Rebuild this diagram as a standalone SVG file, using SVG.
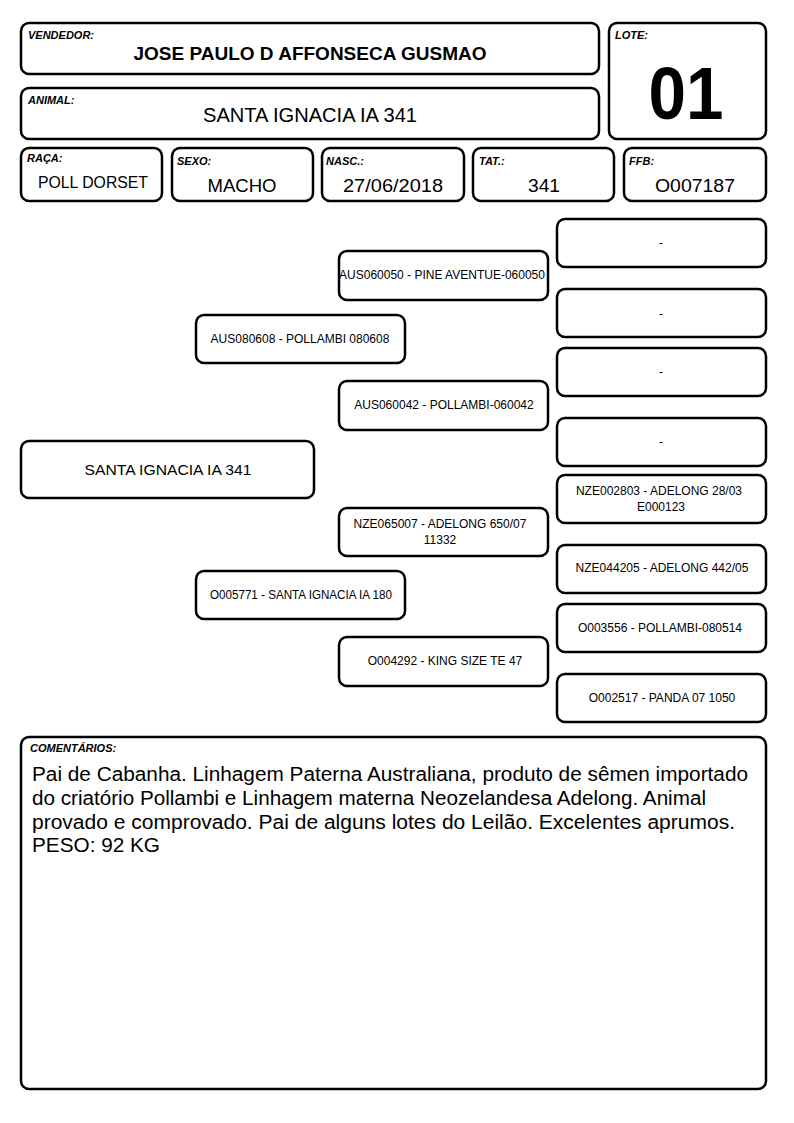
<svg xmlns="http://www.w3.org/2000/svg" width="794" height="1123" viewBox="0 0 794 1123">
<style>
.b{fill:#fff;stroke:#000;stroke-width:2.5}
.l{font-family:"Liberation Sans",Arial,sans-serif;font-size:11px;font-weight:bold;font-style:italic;fill:#000}
.t{font-family:"Liberation Sans",Arial,sans-serif;fill:#000;text-anchor:middle}
.p{font-family:"Liberation Sans",Arial,sans-serif;font-size:12px;fill:#000;text-anchor:middle}
.c{font-family:"Liberation Sans",Arial,sans-serif;font-size:19.5px;fill:#000}
</style>
<rect width="794" height="1123" fill="#fff"/>
<g id="vendedor"><rect class="b" x="21" y="23" width="578" height="51" rx="8"/><text class="l" x="28" y="39">VENDEDOR:</text><text class="t" x="310" y="60" font-size="18.5" font-weight="bold" textLength="353" lengthAdjust="spacingAndGlyphs">JOSE PAULO D AFFONSECA GUSMAO</text></g>
<g id="lote"><rect class="b" x="609" y="23" width="157" height="116" rx="8"/><text class="l" x="615" y="39">LOTE:</text><text class="t" x="686" y="119" font-size="74" font-weight="bold" textLength="75" lengthAdjust="spacingAndGlyphs">01</text></g>
<g id="animal"><rect class="b" x="21" y="88" width="578" height="51" rx="8"/><text class="l" x="28" y="104">ANIMAL:</text><text class="t" x="310" y="122" font-size="19.5" textLength="214" lengthAdjust="spacingAndGlyphs">SANTA IGNACIA IA 341</text></g>
<g id="raca"><rect class="b" x="21" y="148" width="141" height="53" rx="8"/><text class="l" x="27" y="162">RAÇA:</text><text class="t" x="93" y="188" font-size="16" textLength="110" lengthAdjust="spacingAndGlyphs">POLL DORSET</text></g>
<g id="sexo"><rect class="b" x="172" y="148" width="141" height="53" rx="8"/><text class="l" x="177" y="165">SEXO:</text><text class="t" x="242" y="192" font-size="18" textLength="69" lengthAdjust="spacingAndGlyphs">MACHO</text></g>
<g id="nasc"><rect class="b" x="322" y="148" width="142" height="53" rx="8"/><text class="l" x="326" y="165">NASC.:</text><text class="t" x="393" y="192" font-size="18" textLength="100" lengthAdjust="spacingAndGlyphs">27/06/2018</text></g>
<g id="tat"><rect class="b" x="473" y="148" width="141" height="53" rx="8"/><text class="l" x="479" y="165">TAT.:</text><text class="t" x="544" y="192" font-size="18" textLength="32" lengthAdjust="spacingAndGlyphs">341</text></g>
<g id="ffb"><rect class="b" x="624" y="148" width="142" height="53" rx="8"/><text class="l" x="629" y="165">FFB:</text><text class="t" x="695" y="192" font-size="18" textLength="80" lengthAdjust="spacingAndGlyphs">O007187</text></g>
<g id="main"><rect class="b" x="21" y="441" width="293" height="57" rx="8"/><text class="t" x="168" y="475" font-size="15.5" textLength="167" lengthAdjust="spacingAndGlyphs">SANTA IGNACIA IA 341</text></g>
<g id="sire"><rect class="b" x="196" y="315" width="209" height="48" rx="8"/><text class="p" x="300" y="343">AUS080608 - POLLAMBI 080608</text></g>
<g id="dam"><rect class="b" x="196" y="571" width="209" height="48" rx="8"/><text class="p" x="301" y="599" textLength="182" lengthAdjust="spacingAndGlyphs">O005771 - SANTA IGNACIA IA 180</text></g>
<g id="ss"><rect class="b" x="339" y="251" width="209" height="49" rx="8"/><text class="p" x="442" y="279">AUS060050 - PINE AVENTUE-060050</text></g>
<g id="sd"><rect class="b" x="339" y="381" width="209" height="49" rx="8"/><text class="p" x="444" y="409">AUS060042 - POLLAMBI-060042</text></g>
<g id="ds"><rect class="b" x="339" y="508" width="209" height="48" rx="8"/><text class="p" x="440" y="528">NZE065007 - ADELONG 650/07</text><text class="p" x="440" y="544">11332</text></g>
<g id="dd"><rect class="b" x="339" y="637" width="209" height="49" rx="8"/><text class="p" x="445" y="665" font-size="12.8">O004292 - KING SIZE TE 47</text></g>
<g id="sss"><rect class="b" x="557" y="219" width="209" height="48" rx="8"/><text class="p" x="661" y="247">-</text></g>
<g id="ssd"><rect class="b" x="557" y="289" width="209" height="48" rx="8"/><text class="p" x="661" y="318">-</text></g>
<g id="sds"><rect class="b" x="557" y="348" width="209" height="48" rx="8"/><text class="p" x="661" y="376">-</text></g>
<g id="sdd"><rect class="b" x="557" y="418" width="209" height="48" rx="8"/><text class="p" x="661" y="446">-</text></g>
<g id="dss"><rect class="b" x="557" y="475" width="209" height="48" rx="8"/><text class="p" x="659" y="495">NZE002803 - ADELONG 28/03</text><text class="p" x="661" y="511">E000123</text></g>
<g id="dsd"><rect class="b" x="557" y="545" width="209" height="48" rx="8"/><text class="p" x="662" y="572">NZE044205 - ADELONG 442/05</text></g>
<g id="dds"><rect class="b" x="557" y="604" width="209" height="48" rx="8"/><text class="p" x="660" y="632" font-size="12.9">O003556 - POLLAMBI-080514</text></g>
<g id="ddd"><rect class="b" x="557" y="674" width="209" height="48" rx="8"/><text class="p" x="662" y="702" font-size="12.9">O002517 - PANDA 07 1050</text></g>
<g id="connectors"></g>
<g id="comentarios"><rect class="b" x="21" y="737" width="745" height="352" rx="8"/><text class="l" x="30" y="752" font-size="10.5">COMENTÁRIOS:</text>
<text class="c" x="32" y="781" textLength="716" lengthAdjust="spacingAndGlyphs">Pai de Cabanha. Linhagem Paterna Australiana, produto de sêmen importado</text>
<text class="c" x="32" y="805" textLength="674" lengthAdjust="spacingAndGlyphs">do criatório Pollambi e Linhagem materna Neozelandesa Adelong. Animal</text>
<text class="c" x="32" y="829" textLength="703" lengthAdjust="spacingAndGlyphs">provado e comprovado. Pai de alguns lotes do Leilão. Excelentes aprumos.</text>
<text class="c" x="32" y="852" textLength="128" lengthAdjust="spacingAndGlyphs">PESO: 92 KG</text></g>
</svg>
